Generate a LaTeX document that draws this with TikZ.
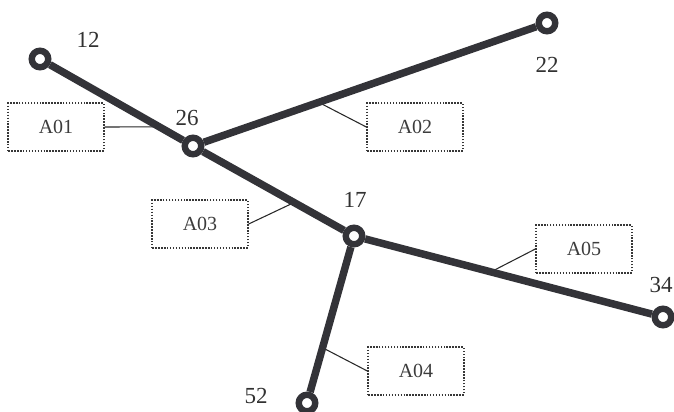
\documentclass[tikz,border=0pt]{standalone}
\usepackage{fontspec}
\setmainfont{Liberation Serif}
\usetikzlibrary{calc,backgrounds}

\tikzset{every picture/.style={line width=0.75pt}}

\begin{document}
\begin{tikzpicture}[x=0.75pt,y=0.75pt,yscale=-1,xscale=1,
	junc/.style={circle,draw={rgb, 255:red, 51; green, 51; blue, 56 },line width=4.8pt,fill=white,inner sep=0pt,minimum size=12.4pt},
	pipe/.style={draw={rgb, 255:red, 51; green, 51; blue, 56 },line width=5.6pt},
	lead/.style={draw={rgb, 255:red, 40; green, 40; blue, 40 },line width=0.8pt},
	tag/.style={draw={rgb, 255:red, 55; green, 55; blue, 55 },line width=1.5pt,dash pattern=on 1.1pt off 1.1pt,minimum width=71.5pt,minimum height=35.5pt,inner sep=0pt,font=\fontsize{15}{18}\selectfont,text={rgb, 255:red, 60; green, 60; blue, 60 }},
	num/.style={inner sep=0pt,font=\fontsize{17.25}{20}\selectfont,text={rgb, 255:red, 50; green, 50; blue, 50 }}]
		\useasboundingbox (0,0) rectangle (674,411);
		
		%Shape: Circle nodes
		\node [junc] (n12) at (40,59) {};
		\node [junc] (n26) at (193,146) {};
		\node [junc] (n22) at (547,23) {};
		\node [junc] (n17) at (354,236) {};
		\node [junc] (n34) at (663,317) {};
		\node [junc] (n52) at (307,403) {};
		
		%Shape: Rectangle tags
		\node [tag] (a01) at (56,127) {A01};
		\node [tag] (a02) at (415,127) {A02};
		\node [tag] (a03) at (200,224) {A03};
		\node [tag] (a04) at (416,371) {A04};
		\node [tag] (a05) at (584,249) {A05};
		
		% Text Node
		\node [num] (l12) at (88,40) {12};
		\node [num] (l26) at (187,118) {26};
		\node [num] (l22) at (547,65) {22};
		\node [num] (l17) at (355,200) {17};
		\node [num] (l34) at (661,285) {34};
		\node [num] (l52) at (256,396) {52};
		
		\begin{pgfonlayer}{background}
		%Straight Lines: leaders
		\coordinate (t01) at ($(n12)!0.78!(n26)$);
		\coordinate (t02) at ($(n26)!0.355!(n22)$);
		\coordinate (t03) at ($(n26)!0.628!(n17)$);
		\coordinate (t04) at ($(n17)!0.669!(n52)$);
		\coordinate (t05) at ($(n17)!0.443!(n34)$);
		\draw [lead] (a01.east) -- (t01);
		\draw [lead] (a02.west) -- (t02);
		\draw [lead] (a03.east) -- (t03);
		\draw [lead] (a04.west) -- (t04);
		\draw [lead] (a05.west) -- (t05);
		%Straight Lines: pipes
		\draw [pipe] (n12) -- (n26);
		\draw [pipe] (n26) -- (n22);
		\draw [pipe] (n26) -- (n17);
		\draw [pipe] (n17) -- (n34);
		\draw [pipe] (n17) -- (n52);
		\end{pgfonlayer}
		
	\end{tikzpicture}
\end{document}
